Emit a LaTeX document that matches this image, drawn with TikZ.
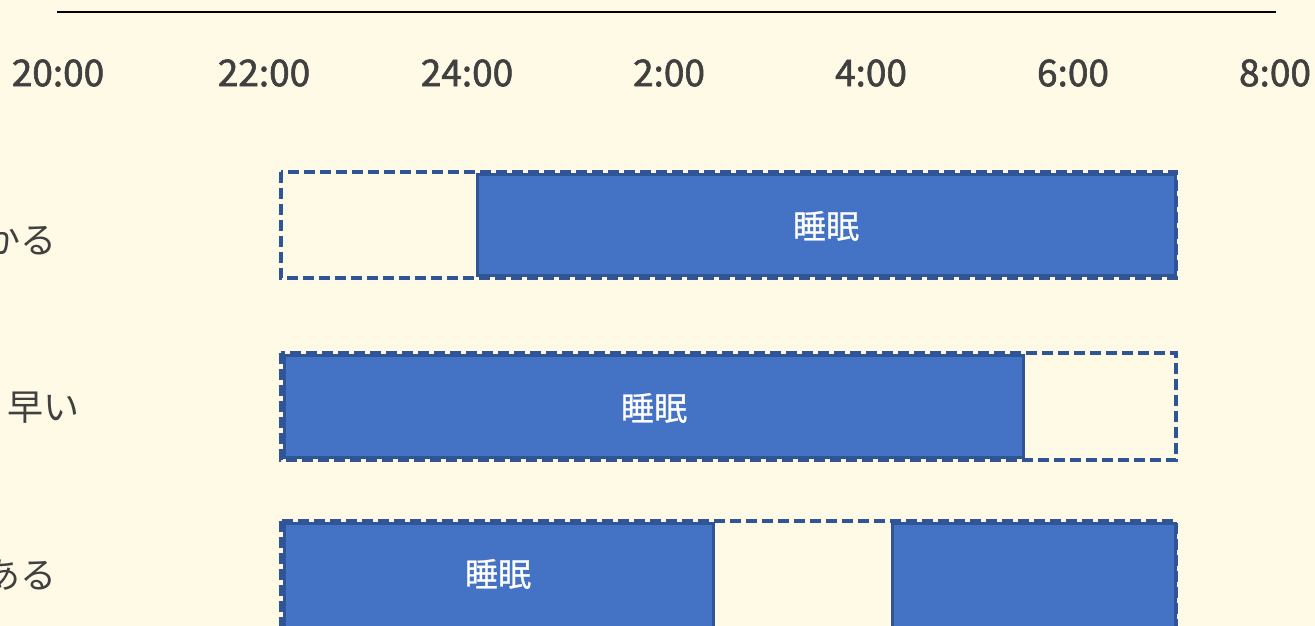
\documentclass[tikz,border=0pt]{standalone}
\usepackage{fontspec}
\newfontfamily\jp{Noto Sans CJK JP}
\newfontfamily\jpmed[FakeBold=1.6]{Noto Sans CJK JP}
\newfontfamily\jpsemi[FakeBold=0.8]{Noto Sans CJK JP}
\definecolor{bg}{HTML}{FFFAE6}
\definecolor{barfill}{HTML}{4472C4}
\definecolor{barline}{HTML}{2F5597}
\definecolor{txt}{HTML}{404040}
\begin{document}
\begin{tikzpicture}[x=1pt,y=-1pt,
  timelbl/.style={font=\jpmed\fontsize{37}{40}\selectfont, text=txt, inner sep=0pt},
  rowlbl/.style={font=\jp\fontsize{36}{38}\selectfont, text=txt, inner sep=0pt, anchor=east},
  frame/.style={draw=barline, line width=3.2pt, dash pattern=on 11pt off 5pt},
  sleepbar/.style={draw=barline, fill=barfill, line width=3pt},
  barlbl/.style={font=\jpsemi\fontsize{33}{36}\selectfont, text=white, inner sep=0pt}]
\useasboundingbox (0,0) rectangle (1315,626);
\clip (0,0) rectangle (1315,626);
\fill[bg] (0,0) rectangle (1315,626);
% top rule
\coordinate (ruleL) at (57,12);
\coordinate (ruleR) at (1276,12);
\draw[line width=2pt, black] (ruleL) -- (ruleR);
% time labels
\node[timelbl] (t20) at (58,73) {20:00};
\node[timelbl] (t22) at (264,73) {22:00};
\node[timelbl] (t24) at (467,73) {24:00};
\node[timelbl] (t2) at (669,73) {2:00};
\node[timelbl] (t4) at (871,73) {4:00};
\node[timelbl] (t6) at (1073,73) {6:00};
\node[timelbl] (t8) at (1275,73) {8:00};
% row labels
\node[rowlbl] (r1) at (57,240) {かる};
\node[rowlbl] (r2) at (80,408) {早い};
\node[rowlbl] (r3) at (57,575) {ある};
% row 1
\draw[frame] (281,172) rectangle (1176,278);
\draw[sleepbar] (477,174) rectangle (1175,275);
\node[barlbl] (s1) at (826,226) {睡眠};
% row 2
\draw[frame] (281,353) rectangle (1176,460);
\draw[sleepbar] (284,355) rectangle (1023,457);
\node[barlbl] (s2) at (654,408) {睡眠};
% row 3
\draw[frame] (281,521) rectangle (1176,640);
\draw[sleepbar] (284,523) rectangle (713,628);
\draw[sleepbar] (892,523) rectangle (1175,628);
\node[barlbl] (s3) at (498,574) {睡眠};
\end{tikzpicture}
\end{document}
